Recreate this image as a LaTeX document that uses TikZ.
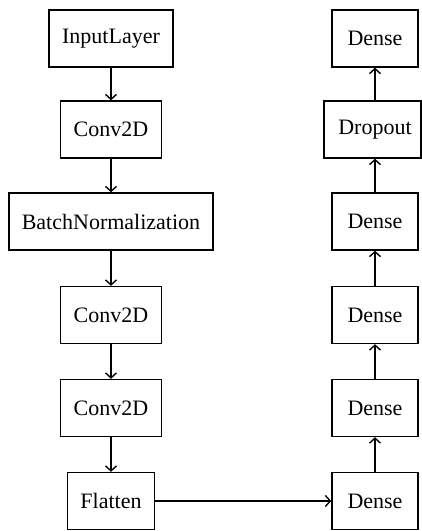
\documentclass[tikz,border=0pt]{standalone}
\usepackage{fontspec}
\setmainfont{Liberation Serif}
\usetikzlibrary{arrows.meta}
\begin{document}
\begin{tikzpicture}[x=1pt,y=-1pt,
  layer/.style={draw, line width=1.4pt, minimum height=57pt, inner xsep=13pt,
    font=\fontsize{22}{26}\selectfont, anchor=center},
  conn/.style={line width=1.4pt, -{Straight Barb[length=5pt,width=11pt,line width=1.4pt]}}]
\useasboundingbox (0,0) rectangle (422,531);
\node[layer] (in) at (111,38.5) {InputLayer};
\node[layer] (c1) at (111,129.5) {Conv2D};
\node[layer] (bn) at (111,221.5) {BatchNormalization};
\node[layer] (c2) at (111,315) {Conv2D};
\node[layer] (c3) at (111,408) {Conv2D};
\node[layer] (fl) at (111,501) {Flatten};
\node[layer, minimum width=86pt] (d1) at (375,501) {Dense};
\node[layer, minimum width=86pt] (d2) at (375,408) {Dense};
\node[layer, minimum width=86pt] (d3) at (375,315) {Dense};
\node[layer, minimum width=86pt] (d4) at (375,221.5) {Dense};
\node[layer, minimum width=97pt, inner xsep=4pt] (dr) at (372.5,129.5) {\hspace*{5pt}Dropout};
\node[layer, minimum width=86pt] (d5) at (375,38.5) {Dense};
\draw[conn] (in) -- (c1);
\draw[conn] (c1) -- (bn);
\draw[conn] (bn) -- (c2);
\draw[conn] (c2) -- (c3);
\draw[conn] (c3) -- (fl);
\draw[conn] (fl) -- (d1);
\draw[conn] (d1) -- (d2);
\draw[conn] (d2) -- (d3);
\draw[conn] (d3) -- (d4);
\draw[conn] (d4.north) -- (d4.north |- dr.south);
\draw[conn] (d4.north |- dr.north) -- (d5.south);
\end{tikzpicture}
\end{document}
